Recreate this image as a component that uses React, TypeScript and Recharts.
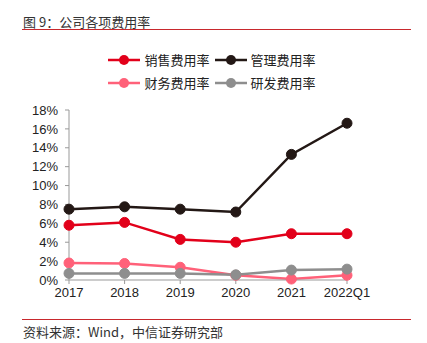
import React from 'react';
import { Line, LineChart, XAxis, YAxis } from 'recharts';

const years = ['2017', '2018', '2019', '2020', '2021', '2022Q1'];
const salesRate = [5.8, 6.1, 4.3, 4.0, 4.9, 4.9];
const mgmtRate = [7.5, 7.75, 7.5, 7.2, 13.3, 16.6];
const finRate = [1.8, 1.75, 1.35, 0.5, 0.1, 0.5];
const rdRate = [0.7, 0.7, 0.7, 0.55, 1.05, 1.15];
const yTicks = [0, 2, 4, 6, 8, 10, 12, 14, 16, 18];

const series = [
  { key: 'sales', name: '销售费用率', color: '#E2001A' },
  { key: 'mgmt', name: '管理费用率', color: '#231815' },
  { key: 'fin', name: '财务费用率', color: '#FF6179' },
  { key: 'rd', name: '研发费用率', color: '#8E8E8E' },
];

const cjk = '"Noto Sans CJK SC", "Liberation Sans", Arial, sans-serif';
const latin = '"Liberation Sans", Arial, sans-serif';

const LegendItem = ({ name, color }: { name: string; color: string }) => (
  <span style={{ display: 'inline-flex', alignItems: 'center', marginRight: 4 }}>
    <svg width={34} height={14}>
      <line x1={1} y1={7} x2={33} y2={7} stroke={color} strokeWidth={2.5} />
      <circle cx={17} cy={7} r={5} fill={color} />
    </svg>
    <span style={{ marginLeft: 3, fontSize: 13, color: '#222', fontFamily: cjk }}>{name}</span>
  </span>
);

export default function App() {
  const data = years.map((year, i) => ({
    year,
    sales: salesRate[i],
    mgmt: mgmtRate[i],
    fin: finRate[i],
    rd: rdRate[i],
  }));

  return (
    <div style={{ position: 'absolute', left: 0, top: 0, width: 427, height: 343, background: '#fff' }}>
      <div style={{ position: 'absolute', left: 23, top: 12, fontSize: 13, color: '#333', fontFamily: cjk }}>
        图 9：公司各项费用率
      </div>
      <div style={{ position: 'absolute', left: 22, top: 29, width: 389, height: 1, background: '#C8282D' }} />

      {/* legend, two rows */}
      <div style={{ position: 'absolute', left: 0, top: 48, width: 427 }}>
        <div style={{ display: 'flex', justifyContent: 'center', height: 23 }}>
          <LegendItem name={series[0].name} color={series[0].color} />
          <LegendItem name={series[1].name} color={series[1].color} />
        </div>
        <div style={{ display: 'flex', justifyContent: 'center', height: 23 }}>
          <LegendItem name={series[2].name} color={series[2].color} />
          <LegendItem name={series[3].name} color={series[3].color} />
        </div>
      </div>

      <div style={{ position: 'absolute', left: 0, top: 0 }}>
        <LineChart width={427} height={343} data={data} margin={{ top: 110, right: 80, bottom: 33, left: 0 }}>
          <XAxis
            dataKey="year"
            height={30}
            stroke="#999"
            tickSize={4}
            tickMargin={4}
            tick={{ fill: '#222', fontSize: 13, fontFamily: latin }}
            interval={0}
          />
          <YAxis
            width={69}
            domain={[0, 18]}
            ticks={yTicks}
            interval={0}
            stroke="#999"
            tickSize={4}
            tickMargin={7}
            tickFormatter={(v) => `${v}%`}
            tick={{ fill: '#222', fontSize: 13, fontFamily: latin }}
          />
          {series.map((s) => (
            <Line
              key={s.key}
              dataKey={s.key}
              name={s.name}
              stroke={s.color}
              strokeWidth={2.5}
              dot={{ r: 5, fill: s.color, stroke: s.color, strokeWidth: 1 }}
              isAnimationActive={false}
            />
          ))}
        </LineChart>
      </div>

      <div style={{ position: 'absolute', left: 22, top: 319, width: 389, height: 1, background: '#C8282D' }} />
      <div style={{ position: 'absolute', left: 23, top: 322, fontSize: 13, color: '#333', fontFamily: cjk }}>
        资料来源：Wind，中信证券研究部
      </div>
    </div>
  );
}
